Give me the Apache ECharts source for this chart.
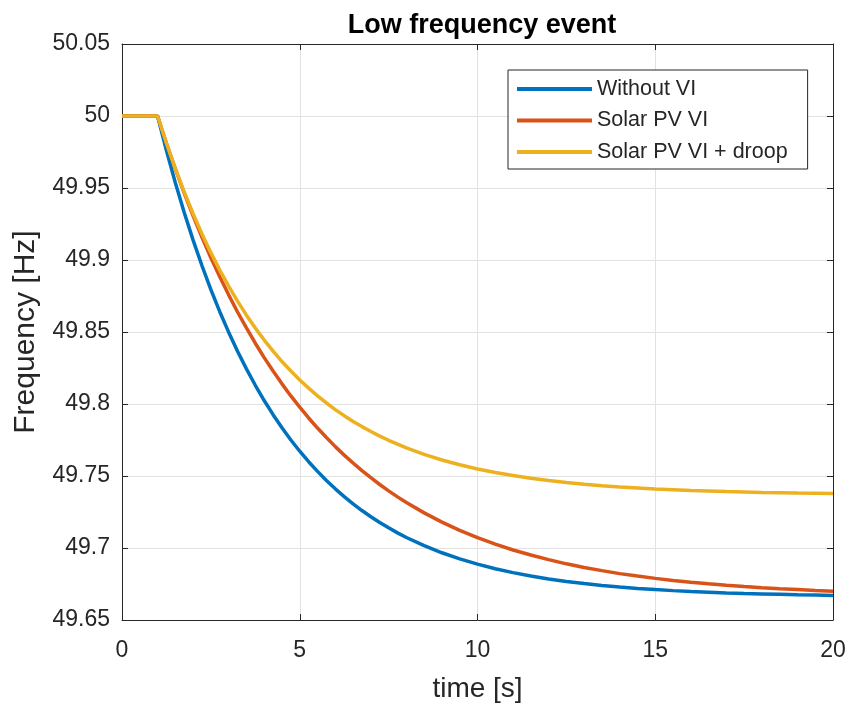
<!DOCTYPE html>
<html>
<head>
<meta charset="utf-8">
<script src="https://cdn.jsdelivr.net/npm/echarts@6/dist/echarts.min.js"></script>
<style>
  html, body { margin: 0; padding: 0; background: #fff; }
  #chart { width: 849px; height: 708px; }
</style>
</head>
<body>
<div id="chart"></div>
<script>
// Time samples in seconds (disturbance applied at t = 1 s)
const times = [0, 1,
  1.25, 1.5, 1.75, 2, 2.25, 2.5, 2.75, 3, 3.25, 3.5, 3.75, 4,
  4.25, 4.5, 4.75, 5, 5.25, 5.5, 5.75, 6, 6.25, 6.5, 6.75, 7,
  7.25, 7.5, 7.75, 8, 8.5, 9, 9.5, 10, 10.5, 11, 11.5, 12,
  12.5, 13, 13.5, 14, 14.5, 15, 15.5, 16, 16.5, 17, 17.5, 18,
  18.5, 19, 19.5, 20];

// Frequency response [Hz] for each case
const withoutVI = [50, 50,
  49.9760, 49.9537, 49.9330, 49.9138, 49.8960, 49.8794, 49.8641, 49.8499, 49.8366, 49.8244, 49.8130, 49.8024,
  49.7926, 49.7835, 49.7750, 49.7672, 49.7599, 49.7532, 49.7469, 49.7411, 49.7357, 49.7307, 49.7260, 49.7217,
  49.7177, 49.7140, 49.7105, 49.7073, 49.7016, 49.6967, 49.6924, 49.6888, 49.6856, 49.6829, 49.6805, 49.6785,
  49.6768, 49.6753, 49.6740, 49.6729, 49.6719, 49.6711, 49.6704, 49.6698, 49.6693, 49.6688, 49.6684, 49.6681,
  49.6678, 49.6675, 49.6673, 49.6671];

const solarPvVI = [50, 50,
  49.9811, 49.9633, 49.9465, 49.9307, 49.9157, 49.9016, 49.8883, 49.8758, 49.8639, 49.8528, 49.8422, 49.8322,
  49.8229, 49.8140, 49.8056, 49.7978, 49.7903, 49.7833, 49.7767, 49.7704, 49.7645, 49.7590, 49.7537, 49.7488,
  49.7441, 49.7397, 49.7355, 49.7316, 49.7244, 49.7180, 49.7123, 49.7072, 49.7027, 49.6986, 49.6951, 49.6919,
  49.6890, 49.6865, 49.6843, 49.6822, 49.6805, 49.6789, 49.6775, 49.6762, 49.6751, 49.6741, 49.6732, 49.6724,
  49.6717, 49.6711, 49.6705, 49.6700];

const solarPvVIDroop = [50, 50,
  49.9811, 49.9635, 49.9472, 49.9321, 49.9181, 49.9051, 49.8930, 49.8818, 49.8714, 49.8617, 49.8527, 49.8444,
  49.8367, 49.8295, 49.8229, 49.8167, 49.8110, 49.8056, 49.8007, 49.7961, 49.7919, 49.7879, 49.7843, 49.7809,
  49.7777, 49.7748, 49.7721, 49.7695, 49.7650, 49.7611, 49.7578, 49.7549, 49.7524, 49.7503, 49.7484, 49.7469,
  49.7455, 49.7443, 49.7433, 49.7424, 49.7417, 49.7410, 49.7405, 49.7400, 49.7396, 49.7392, 49.7389, 49.7386,
  49.7384, 49.7382, 49.7381, 49.7379];

const seriesNames = ['Without VI', 'Solar PV VI', 'Solar PV VI + droop'];
const seriesColors = ['#0072BD', '#D95319', '#EDB120'];

// Axis ticks
const xTicks = [0, 5, 10, 15, 20];
const yTicks = [49.65, 49.7, 49.75, 49.8, 49.85, 49.9, 49.95, 50, 50.05];

const FONT = '"Liberation Sans", Arial, Helvetica, sans-serif';
const AX = '#262626';
const GRID = '#e2e2e2';

const pairs = (ys) => times.map((t, i) => [t, ys[i]]);
const fmtY = (v) => String(+(+v).toFixed(2));

const chart = echarts.init(document.getElementById('chart'), null, { renderer: 'canvas' });

const xBase = {
  type: 'value',
  min: xTicks[0],
  max: xTicks[xTicks.length - 1],
  interval: xTicks[1] - xTicks[0],
  axisLine: { show: true, onZero: false, lineStyle: { color: AX, width: 1 } },
  axisTick: { show: true, inside: true, length: 6, lineStyle: { color: AX } },
};
const yBase = {
  type: 'value',
  min: yTicks[0],
  max: yTicks[yTicks.length - 1],
  interval: 0.05,
  axisLine: { show: true, onZero: false, lineStyle: { color: AX, width: 1 } },
  axisTick: { show: true, inside: true, length: 6, lineStyle: { color: AX } },
};

chart.setOption({
  animation: false,
  backgroundColor: '#ffffff',
  title: {
    text: 'Low frequency event',
    left: 477, textAlign: 'center',
    top: 7,
    textStyle: { fontFamily: FONT, fontSize: 27, fontWeight: 'bold', color: '#000' }
  },
  grid: { left: 122, right: 16, top: 44, bottom: 85, containLabel: false },
  legend: {
    orient: 'vertical',
    left: 508, top: 70,
    data: seriesNames,
    icon: 'rect',
    itemWidth: 75, itemHeight: 4,
    itemGap: 9.5,
    padding: [8, 20, 6, 9],
    backgroundColor: '#fff',
    borderColor: AX, borderWidth: 1,
    selectedMode: false,
    textStyle: { fontFamily: FONT, fontSize: 21.5, color: AX }
  },
  xAxis: [
    Object.assign({}, xBase, {
      position: 'bottom',
      name: 'time [s]', nameLocation: 'middle', nameGap: 55,
      nameTextStyle: { fontFamily: FONT, fontSize: 28, color: AX },
      axisLabel: { fontFamily: FONT, fontSize: 23, color: AX, margin: 19 },
      splitLine: { show: true, lineStyle: { color: GRID, width: 1 } }
    }),
    Object.assign({}, xBase, {
      position: 'top',
      axisLabel: { show: false },
      splitLine: { show: false }
    })
  ],
  yAxis: [
    Object.assign({}, yBase, {
      position: 'left',
      name: 'Frequency [Hz]', nameLocation: 'middle', nameGap: 81,
      nameTextStyle: { fontFamily: FONT, fontSize: 30, color: AX },
      axisLabel: { fontFamily: FONT, fontSize: 23, color: AX, margin: 12, formatter: fmtY },
      splitLine: { show: true, lineStyle: { color: GRID, width: 1 } }
    }),
    Object.assign({}, yBase, {
      position: 'right',
      axisLabel: { show: false },
      splitLine: { show: false }
    })
  ],
  series: [withoutVI, solarPvVI, solarPvVIDroop].map((ys, i) => ({
    name: seriesNames[i],
    type: 'line',
    xAxisIndex: 0, yAxisIndex: 0,
    data: pairs(ys),
    showSymbol: false,
    symbol: 'none',
    smooth: false,
    color: seriesColors[i],
    lineStyle: { color: seriesColors[i], width: 3.5 },
    z: 2 + i
  }))
});
</script>
</body>
</html>
